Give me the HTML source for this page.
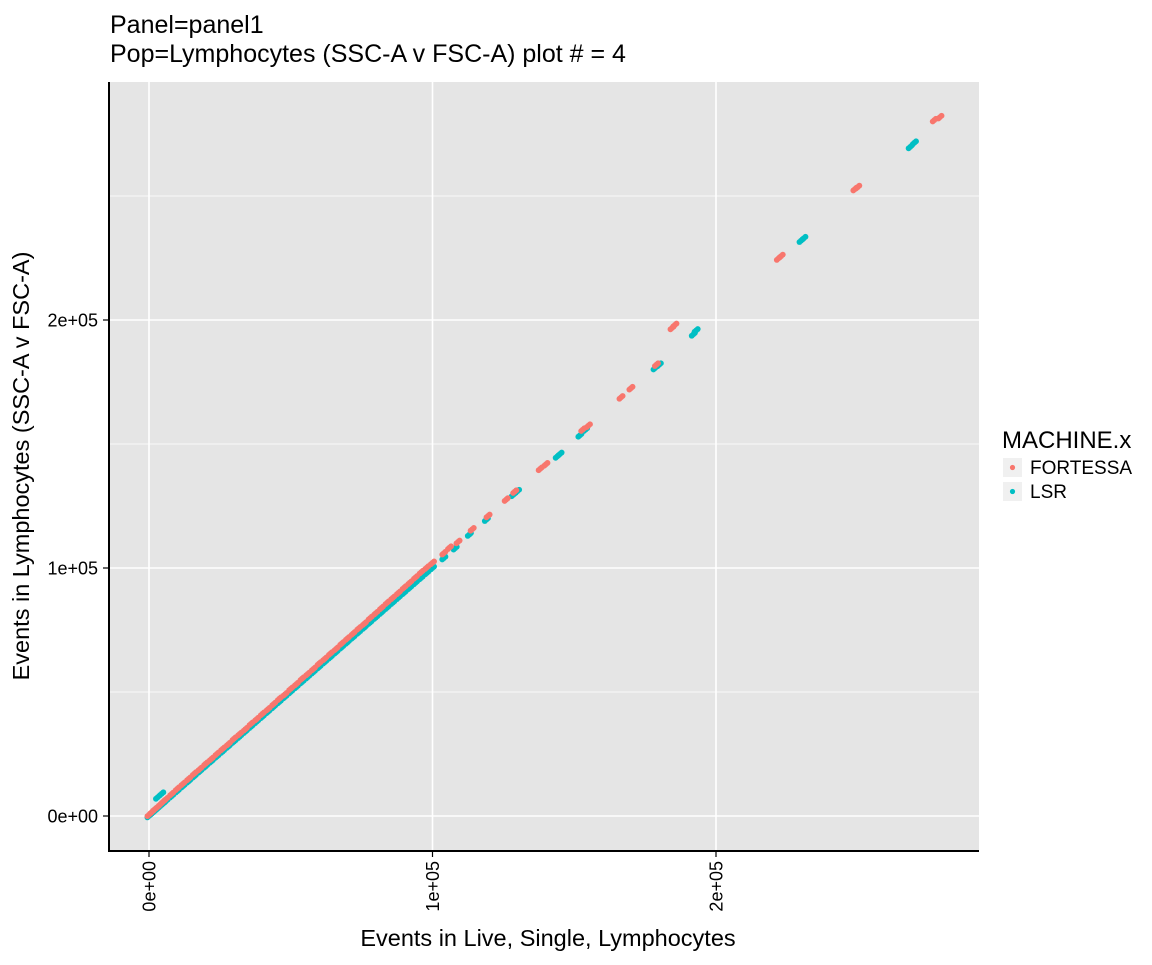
<!DOCTYPE html>
<html><head><meta charset="utf-8"><style>
body{margin:0;background:#fff;font-family:"Liberation Sans",sans-serif}
svg text{font-family:"Liberation Sans",sans-serif}
</style></head><body>
<svg id="chart" width="1152" height="960" viewBox="0 0 1152 960">
<text x="110" y="33" font-size="25">Panel=panel1</text>
<text x="110" y="62" font-size="25">Pop=Lymphocytes (SSC-A v FSC-A) plot # = 4</text>
<rect x="109" y="82" width="870" height="769" fill="#e5e5e5"/>
<g id="grid"></g>
<g id="points"></g>
<line x1="109" y1="82" x2="109" y2="852" stroke="#000" stroke-width="2"/>
<line x1="108" y1="851" x2="979" y2="851" stroke="#000" stroke-width="2"/>
<g id="ticks"></g>
<text x="548" y="946" font-size="23.5" text-anchor="middle">Events in Live, Single, Lymphocytes</text>
<text transform="translate(29,466) rotate(-90)" font-size="23.5" text-anchor="middle">Events in Lymphocytes (SSC-A v FSC-A)</text>
<text x="1002" y="448" font-size="24">MACHINE.x</text>
<rect x="1003" y="458" width="19" height="19" fill="#f0f0f0"/>
<circle cx="1012.5" cy="467.5" r="2.6" fill="#F8766D"/>
<text x="1030" y="474" font-size="19">FORTESSA</text>
<rect x="1003" y="482" width="19" height="19" fill="#f0f0f0"/>
<circle cx="1012.5" cy="491.5" r="2.6" fill="#00BFC4"/>
<text x="1030" y="498" font-size="19">LSR</text>
</svg>
<script>
// values in thousands of events
const fortessaX = [0,1,2,3,4,5,6,8,10,12,14,16,18,20,22,24,26,28,30,32,34,36,38,40,42,44,46,48,50,52,54,56,58,60,62,64,66,68,70,72,74,76,78,80,82,84,86,88,90,92,94,96,98,100,104,106,109,114,119.6,126,129,138,140,153,155,166.5,170,179,184.5,185.5,222,223,249,250,277,279];
const fortessaY = [0.5,1.6,2.7,3.6,4.7,5.8,6.8,8.9,11,13,15,17.1,19,21.1,23,25.1,27.1,29,31.2,33.1,35,37.2,39.1,41.2,43.1,45.2,47.3,49.1,51.3,53.2,55.4,57.3,59.3,61.5,63.4,65.5,67.4,69.6,71.6,73.6,75.7,77.6,79.8,81.8,83.9,86,88,90,92.1,94.1,96.2,98.3,100.2,102.1,106,108.2,110.5,115.6,121,127.6,130.8,140,141.8,155.8,157.4,168.8,172.5,182,196.8,198,224.8,225.8,252.8,253.6,280.6,281.8];
const lsrX = [0,1,2,3,4,5,6,8,10,12,14,16,18,20,22,24,26,28,30,32,34,36,38,40,42,44,46,48,50,52,54,56,58,60,62,64,66,68,70,72,74,76,78,80,82,84,86,88,90,92,94,96,98,100,104,108,113,119,128.5,130,144,145,152,154,178.5,180,192,193,230,231,268.5,270,3,4.5];
const lsrY = [0,1,2,3,4,5,6,8,10,12,14,16,18,20,22,24,26,28,30,32,34,36,38,40,42,44,46,48,50,52,54,56,58,60,62,64,66,68,70,72,74,76,78,80,82,84,86,88,90,92,94,96,98,100,104,108,113.5,119.5,129.5,131,145,146,153.5,155.8,180.6,182,194.2,195.8,232,233,269.8,271.5,7.5,9];
const xTickVals = [0,100,200];
const xTickLabels = ["0e+00","1e+05","2e+05"];
const yTickVals = [0,100,200];
const yTickLabels = ["0e+00","1e+05","2e+05"];
const yMinorVals = [50,150,250];

const NS="http://www.w3.org/2000/svg";
const xs = v => 149 + v*2.835;
const ys = v => 816 - v*2.48;
function mk(tag, attrs, parent){const e=document.createElementNS(NS,tag);for(const k in attrs)e.setAttribute(k,attrs[k]);parent.appendChild(e);return e;}
const grid=document.getElementById('grid'), pts=document.getElementById('points'), ticks=document.getElementById('ticks');
yMinorVals.forEach(v=>{
  const l=mk('line',{x1:109,x2:979,y1:ys(v),y2:ys(v),stroke:'#fff','stroke-width':0.8},grid);
  
  
});
yTickVals.forEach((v,i)=>{
  const l=mk('line',{x1:109,x2:979,y1:ys(v),y2:ys(v),stroke:'#fff','stroke-width':1.6},grid);
  
  
  const t=mk('line',{x1:103,x2:109,y1:ys(v),y2:ys(v),stroke:'#000','stroke-width':1.2},ticks);
  
  
  const tx=mk('text',{x:98,y:ys(v)+6.5,'font-size':18,'text-anchor':'end'},ticks);
  tx.textContent=yTickLabels[i];
  
  
});
xTickVals.forEach((v,i)=>{
  const l=mk('line',{x1:xs(v),x2:xs(v),y1:82,y2:851,stroke:'#fff','stroke-width':1.6},grid);
  
  
  const t=mk('line',{x1:xs(v),x2:xs(v),y1:851,y2:857,stroke:'#000','stroke-width':1.2},ticks);
  
  
  const tx=mk('text',{transform:`translate(${xs(v)+6.5},861) rotate(-90)`,'font-size':18,'text-anchor':'end'},ticks);
  tx.textContent=xTickLabels[i];
  
  
});
function drawSeries(X,Y,color,name){
  X.forEach((xv,i)=>{
    const cx=xs(xv), cy=ys(Y[i]);
    [-1.6,0,1.6].forEach(o=>{
      const c=mk('circle',{cx:cx+o,cy:cy-o*0.87,r:2.9,fill:color},pts);
      
      
    });
  });
}
drawSeries(lsrX,lsrY,'#00BFC4','lsr-point');
drawSeries(fortessaX,fortessaY,'#F8766D','fortessa-point');
</script>
</body></html>
